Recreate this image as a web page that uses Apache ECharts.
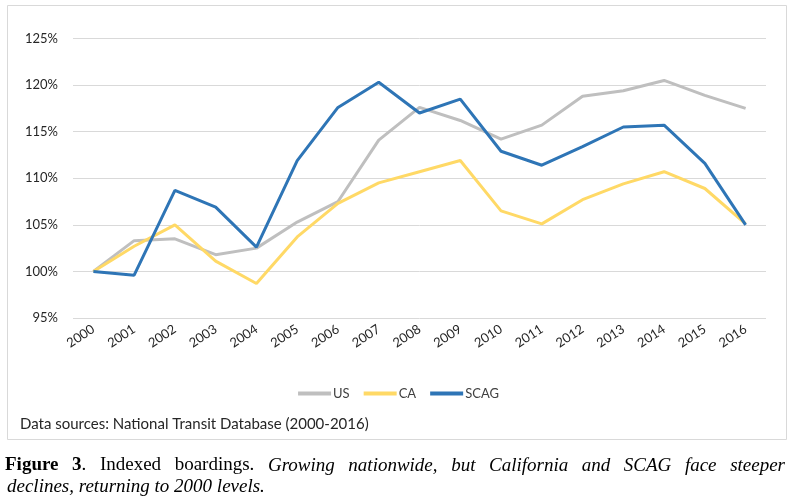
<!DOCTYPE html>
<html>
<head>
<meta charset="utf-8">
<script src="https://cdn.jsdelivr.net/npm/echarts@6/dist/echarts.min.js"></script>
<style>
  html, body { margin: 0; padding: 0; background: #fff; }
  #chart { width: 797px; height: 502px; }
</style>
</head>
<body>
<div id="chart"></div>
<script>
// indexed boardings, 2000 = 100%
const years = ['2000', '2001', '2002', '2003', '2004', '2005', '2006', '2007', '2008',
  '2009', '2010', '2011', '2012', '2013', '2014', '2015', '2016'];
const us = [100, 103.3, 103.5, 101.8, 102.5, 105.3, 107.5, 114.1, 117.6,
  116.2, 114.2, 115.7, 118.8, 119.4, 120.5, 118.9, 117.5];
const ca = [100, 102.7, 105.0, 101.1, 98.7, 103.7, 107.3, 109.5, 110.7,
  111.9, 106.5, 105.1, 107.7, 109.4, 110.7, 108.9, 105.1];
const scag = [100, 99.6, 108.7, 106.9, 102.6, 111.9, 117.6, 120.3, 117.0,
  118.5, 112.9, 111.4, 113.4, 115.5, 115.7, 111.6, 105.0];

const chart = echarts.init(document.getElementById('chart'));
const font = 'Lato, "Open Sans", sans-serif';
const serif = '"Liberation Serif", serif';
const capSize = 19;

// caption line 1 is justified, so words are laid out one by one
// each word: list of [style, text]
const captionWords = [
  [['b', 'Figure']],
  [['b', '3'], ['r', '.']],
  [['r', 'Indexed']],
  [['r', 'boardings.']],
  [['i', 'Growing']],
  [['i', 'nationwide,']],
  [['i', 'but']],
  [['i', 'California']],
  [['i', 'and']],
  [['i', 'SCAG']],
  [['i', 'face']],
  [['i', 'steeper']]
];
const fontCss = {
  b: 'bold ' + capSize + 'px ' + serif,
  r: capSize + 'px ' + serif,
  i: 'italic ' + capSize + 'px ' + serif
};
const rich = {
  b: { fontFamily: serif, fontWeight: 'bold', fontSize: capSize, fill: '#000' },
  r: { fontFamily: serif, fontSize: capSize, fill: '#000' },
  i: { fontFamily: serif, fontStyle: 'italic', fontSize: capSize, fill: '#000' }
};

const ctx = document.createElement('canvas').getContext('2d');
function wordWidth(parts) {
  let w = 0;
  parts.forEach(function (p) {
    ctx.font = fontCss[p[0]];
    w += ctx.measureText(p[1]).width;
  });
  return w;
}

function captionLine(x0, x1, top) {
  const widths = captionWords.map(wordWidth);
  const total = widths.reduce(function (a, b) { return a + b; }, 0);
  const gap = (x1 - x0 - total) / (captionWords.length - 1);
  const els = [];
  let x = x0;
  captionWords.forEach(function (parts, k) {
    els.push({
      type: 'text',
      x: x,
      y: top,
      silent: true,
      style: {
        text: parts.map(function (p) { return '{' + p[0] + '|' + p[1] + '}'; }).join(''),
        rich: rich
      }
    });
    x += widths[k] + gap;
  });
  return els;
}

function lineSeries(name, data, color) {
  return {
    name: name,
    type: 'line',
    data: data,
    symbol: 'none',
    lineStyle: { color: color, width: 3 },
    itemStyle: { color: color }
  };
}

const option = {
  animation: false,
  backgroundColor: '#fff',
  grid: { left: 73, right: 31, top: 38.5, bottom: 184 },
  legend: {
    top: 382,
    left: 'center',
    icon: 'rect',
    itemWidth: 33,
    itemHeight: 4,
    itemGap: 14,
    textStyle: { fontFamily: font, fontSize: 13, color: '#404040', padding: [0, 0, 0, -3] },
    data: ['US', 'CA', 'SCAG']
  },
  xAxis: {
    type: 'category',
    data: years,
    boundaryGap: true,
    axisLine: { show: false },
    axisTick: { show: false },
    axisLabel: {
      rotate: 33,
      margin: 10,
      interval: 0,
      fontFamily: font,
      fontSize: 13,
      color: '#262626'
    }
  },
  yAxis: {
    type: 'value',
    min: 95,
    max: 125,
    interval: 5,
    axisLine: { show: false },
    axisTick: { show: false },
    splitLine: { lineStyle: { color: '#d9d9d9', width: 1 } },
    axisLabel: {
      formatter: '{value}%',
      margin: 15,
      fontFamily: font,
      fontSize: 13,
      color: '#262626'
    }
  },
  graphic: [
    {
      type: 'rect',
      shape: { x: 7.5, y: 5.5, width: 779, height: 434 },
      style: { fill: 'none', stroke: '#d9d9d9', lineWidth: 1 },
      silent: true
    },
    {
      type: 'text',
      left: 20,
      top: 417,
      style: {
        text: 'Data sources: National Transit Database (2000-2016)',
        fontFamily: font,
        fontSize: 15,
        fill: '#262626'
      }
    },
    {
      type: 'text',
      left: 7,
      top: 477,
      style: {
        text: 'declines, returning to 2000 levels.',
        fontFamily: serif,
        fontStyle: 'italic',
        fontSize: capSize,
        fill: '#000'
      }
    }
  ].concat(captionLine(5, 785, 456)),
  series: [
    lineSeries('US', us, '#bfbfbf'),
    lineSeries('CA', ca, '#ffd966'),
    lineSeries('SCAG', scag, '#2e75b6')
  ]
};

chart.setOption(option);
</script>
</body>
</html>
